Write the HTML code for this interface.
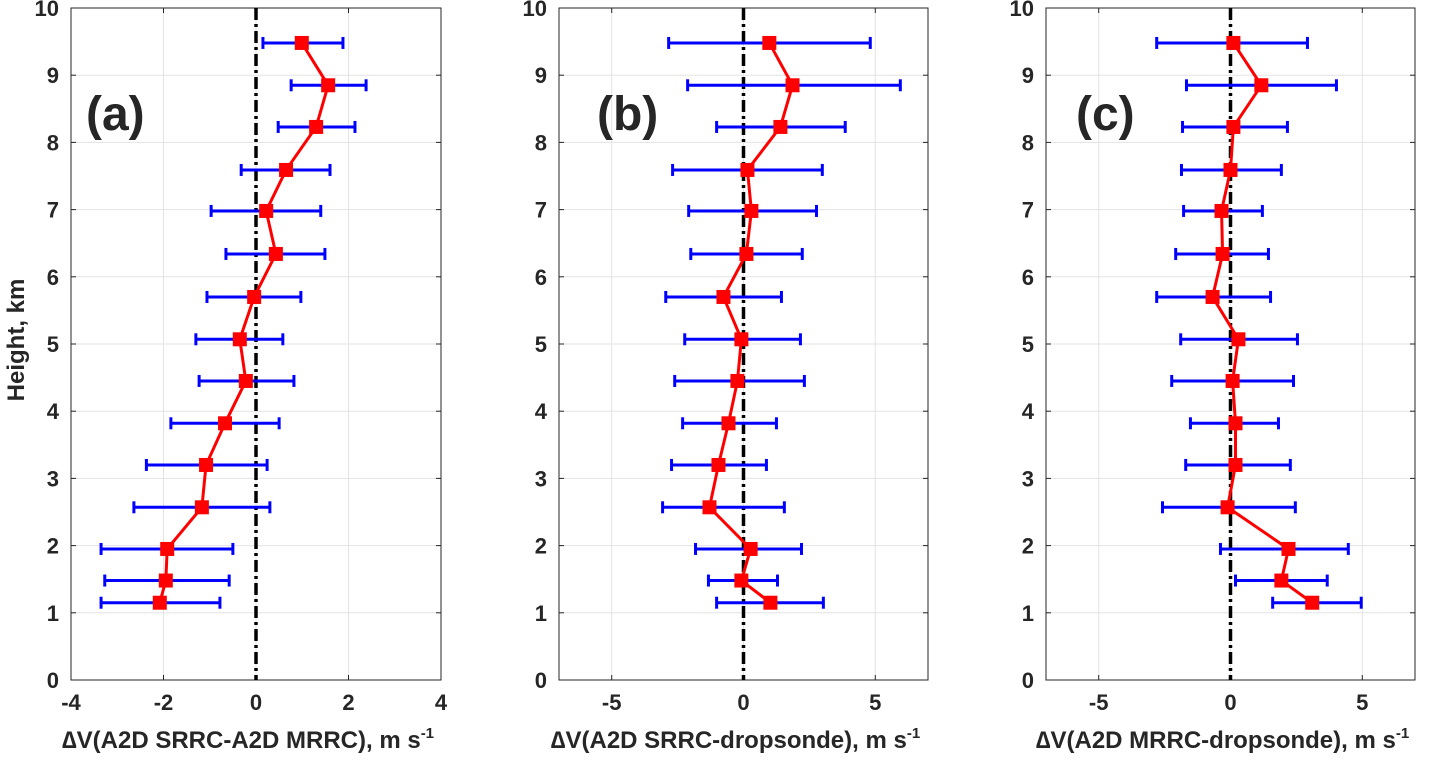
<!DOCTYPE html>
<html><head><meta charset="utf-8"><style>
body{margin:0;background:#fff;}
svg text{font-family:"Liberation Sans",sans-serif;font-weight:bold;fill:#262626;}
</style></head><body>
<svg id="chart" width="1455" height="755" xmlns="http://www.w3.org/2000/svg"></svg>
<script>
const heights=[1.15,1.48,1.95,2.57,3.2,3.82,4.45,5.07,5.7,6.34,6.98,7.59,8.23,8.85,9.48];
const meanA=[-2.08,-1.95,-1.92,-1.17,-1.08,-0.67,-0.22,-0.35,-0.04,0.43,0.22,0.65,1.3,1.56,0.99];
const loA=[-3.35,-3.27,-3.35,-2.64,-2.37,-1.84,-1.23,-1.3,-1.06,-0.65,-0.97,-0.32,0.48,0.76,0.15];
const hiA=[-0.78,-0.58,-0.5,0.3,0.24,0.5,0.82,0.58,0.97,1.49,1.4,1.6,2.14,2.38,1.88];
const meanB=[1.02,-0.08,0.27,-1.29,-0.95,-0.57,-0.23,-0.08,-0.76,0.11,0.3,0.15,1.4,1.86,0.98];
const loB=[-1.02,-1.33,-1.82,-3.07,-2.73,-2.31,-2.61,-2.23,-2.95,-2.0,-2.08,-2.69,-1.02,-2.12,-2.84];
const hiB=[3.03,1.29,2.2,1.55,0.87,1.25,2.31,2.16,1.44,2.23,2.77,2.99,3.86,5.95,4.81];
const meanC=[3.1,1.93,2.2,-0.11,0.19,0.19,0.08,0.3,-0.68,-0.3,-0.34,0,0.11,1.17,0.11];
const loC=[1.6,0.19,-0.38,-2.58,-1.7,-1.52,-2.23,-1.89,-2.8,-2.08,-1.78,-1.86,-1.82,-1.67,-2.8];
const hiC=[4.96,3.67,4.47,2.46,2.27,1.82,2.39,2.54,1.52,1.44,1.21,1.93,2.16,4.02,2.92];
const yTicks=[0,1,2,3,4,5,6,7,8,9,10];
const xTicksA=[-4,-2,0,2,4];
const xTicksBC=[-5,0,5];
const panels=[
 {id:'a',left:71,right:441,xmin:-4,xmax:4,ticks:xTicksA,mean:meanA,lo:loA,hi:hiA,lab:'(a)',labX:86,xl:'\u2206V(A2D SRRC-A2D MRRC), m s'},
 {id:'b',left:559,right:928,xmin:-7,xmax:7,ticks:xTicksBC,mean:meanB,lo:loB,hi:hiB,lab:'(b)',labX:597,xl:'\u2206V(A2D SRRC-dropsonde), m s'},
 {id:'c',left:1046,right:1415,xmin:-7,xmax:7,ticks:xTicksBC,mean:meanC,lo:loC,hi:hiC,lab:'(c)',labX:1076,xl:'\u2206V(A2D MRRC-dropsonde), m s'}];
const plotTop=8,plotBot=680;
const svg=document.getElementById('chart');
const NS='http://www.w3.org/2000/svg';
function el(t,a,p){const e=document.createElementNS(NS,t);for(const k in a)e.setAttribute(k,a[k]);(p||svg).appendChild(e);return e;}
const ys=v=>plotBot-(v/10)*(plotBot-plotTop);
panels.forEach(P=>{
 const xs=v=>P.left+(v-P.xmin)/(P.xmax-P.xmin)*(P.right-P.left);
 const g=el('g',{});
 
 
 yTicks.forEach(t=>{
  const l=el('line',{x1:P.left,x2:P.right,y1:ys(t),y2:ys(t),stroke:'#e3e3e3','stroke-width':1},g);
  
  
  el('line',{x1:P.left,x2:P.left+5,y1:ys(t),y2:ys(t),stroke:'#262626'},g);
  el('line',{x1:P.right,x2:P.right-5,y1:ys(t),y2:ys(t),stroke:'#262626'},g);
  const tx=el('text',{x:P.left-12,y:ys(t)+8,'text-anchor':'end','font-size':22},g);
  tx.textContent=t;
  
  
 });
 P.ticks.forEach(t=>{
  const l=el('line',{x1:xs(t),x2:xs(t),y1:plotTop,y2:plotBot,stroke:'#e3e3e3','stroke-width':1},g);
  
  
  el('line',{x1:xs(t),x2:xs(t),y1:plotBot,y2:plotBot-5,stroke:'#262626'},g);
  el('line',{x1:xs(t),x2:xs(t),y1:plotTop,y2:plotTop+5,stroke:'#262626'},g);
  const tx=el('text',{x:xs(t),y:plotBot+30,'text-anchor':'middle','font-size':22},g);
  tx.textContent=t;
  
  
 });
 const box=el('rect',{x:P.left,y:plotTop,width:P.right-P.left,height:plotBot-plotTop,fill:'none',stroke:'#262626','stroke-width':1},g);
 
 
 const z=el('line',{x1:xs(0),x2:xs(0),y1:plotTop,y2:plotBot,stroke:'#000','stroke-width':3.5,'stroke-dasharray':'12,4,3,4'},g);
 
 
 heights.forEach((h,i)=>{
  const y=ys(h);
  const e=el('g',{stroke:'#0000ff','stroke-width':3},g);
  
  
  el('line',{x1:xs(P.lo[i]),x2:xs(P.hi[i]),y1:y,y2:y},e);
  el('line',{x1:xs(P.lo[i]),x2:xs(P.lo[i]),y1:y-6,y2:y+6},e);
  el('line',{x1:xs(P.hi[i]),x2:xs(P.hi[i]),y1:y-6,y2:y+6},e);
 });
 const pl=el('polyline',{points:heights.map((h,i)=>xs(P.mean[i])+','+ys(h)).join(' '),fill:'none',stroke:'#ff0000','stroke-width':3},g);
 
 
 heights.forEach((h,i)=>{
  const r=el('rect',{x:xs(P.mean[i])-7,y:ys(h)-7,width:14,height:14,fill:'#ff0000'},g);
  
  
 });
 const lb=el('text',{x:P.labX,y:130,'font-size':48,fill:'#000'},g);
 lb.textContent=P.lab;
 
 
 const xl=el('text',{x:(P.left+P.right)/2-8,y:748,'text-anchor':'middle','font-size':24},g);
 
 
 xl.appendChild(document.createTextNode(P.xl));
 const sup=el('tspan',{'font-size':15,dy:-10},xl);sup.textContent='-1';
});
const yl=el('text',{x:0,y:0,'text-anchor':'middle','font-size':24,transform:'translate(24,340) rotate(-90)'});
yl.textContent='Height, km';


</script>
</body></html>
